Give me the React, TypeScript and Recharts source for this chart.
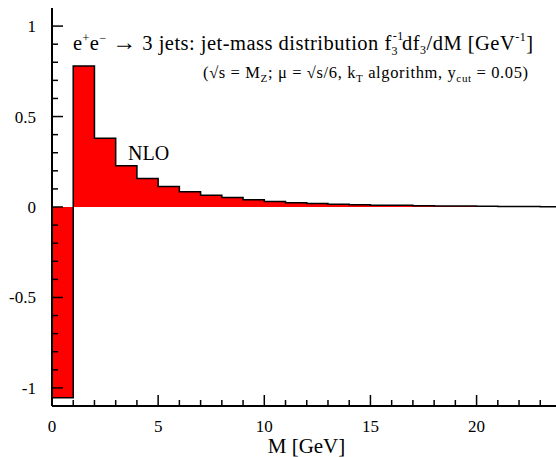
import React from 'react';
import { ComposedChart, Area, Line, XAxis, YAxis } from 'recharts';

// bin edges of the jet-mass histogram [GeV]
const binEdges = [0, 1, 2, 3, 4, 5, 6, 7, 8, 9, 10, 11, 12, 13, 14, 15, 16, 17, 18, 19, 20, 21, 22, 23, 24];
// NLO value in each 1 GeV bin
const nloValues = [
  -1.055, 0.78, 0.38, 0.228, 0.158, 0.113, 0.084, 0.065, 0.052, 0.04, 0.031, 0.024,
  0.019, 0.015, 0.012, 0.01, 0.009, 0.007, 0.006, 0.005, 0.004, 0.003, 0.003, 0.002,
];

const xTicks = [0, 1, 2, 3, 4, 5, 6, 7, 8, 9, 10, 11, 12, 13, 14, 15, 16, 17, 18, 19, 20, 21, 22, 23, 24];
const xLabelled = [0, 5, 10, 15, 20];
const yTicks = [-1, -0.9, -0.8, -0.7, -0.6, -0.5, -0.4, -0.3, -0.2, -0.1, 0, 0.1, 0.2, 0.3, 0.4, 0.5, 0.6, 0.7, 0.8, 0.9, 1];
const yLabelled = [-1, -0.5, 0, 0.5, 1];

// step plot: last edge repeats the last bin value
const data = binEdges.map((m, i) => ({ m, nlo: nloValues[Math.min(i, nloValues.length - 1)] }));

const serif = { fontFamily: 'Liberation Serif, Times New Roman, DejaVu Serif, serif' };
const MAJ = 11;
const MIN = 6;

const isLab = (list: number[], v: number) => list.some((t) => Math.abs(t - v) < 1e-6);

const BottomTick = (props: any) => {
  const { x, y, payload } = props;
  const major = isLab(xLabelled, payload.value);
  return (
    <g>
      <line x1={x} x2={x} y1={y} y2={y - (major ? MAJ : MIN)} stroke="#000" strokeWidth={1.5} />
      {major && (
        <text x={x} y={y + 26} textAnchor="middle" style={serif} fontSize={17} fill="#000">
          {payload.value}
        </text>
      )}
    </g>
  );
};

const TopTick = (props: any) => {
  const { x, y, payload } = props;
  const major = isLab(xLabelled, payload.value);
  return <line x1={x} x2={x} y1={y} y2={y + (major ? MAJ : MIN)} stroke="#000" strokeWidth={1.5} />;
};

const LeftTick = (props: any) => {
  const { x, y, payload } = props;
  const major = isLab(yLabelled, payload.value);
  return (
    <g>
      <line x1={x} x2={x + (major ? MAJ : MIN)} y1={y} y2={y} stroke="#000" strokeWidth={1.5} />
      {major && (
        <text x={x - 16} y={y + 6} textAnchor="end" style={serif} fontSize={17} fill="#000">
          {String(payload.value)}
        </text>
      )}
    </g>
  );
};

const RightTick = (props: any) => {
  const { x, y, payload } = props;
  const major = isLab(yLabelled, payload.value);
  return <line x1={x} x2={x - (major ? MAJ : MIN)} y1={y} y2={y} stroke="#000" strokeWidth={1.5} />;
};

const axisLine = { stroke: '#000', strokeWidth: 2 };

export default function App() {
  return (
    <div style={{ position: 'absolute', left: 0, top: 0, width: 556, height: 457, overflow: 'hidden', background: '#fff' }}>
      <ComposedChart width={580} height={457} data={data} margin={{ top: 8, right: 18.5, bottom: 21, left: 8 }}>
        <XAxis
          dataKey="m"
          type="number"
          domain={[0, 24]}
          ticks={xTicks}
          interval={0}
          allowDataOverflow
          height={30}
          tickSize={0}
          tickMargin={0}
          tickLine={false}
          axisLine={axisLine}
          tick={<BottomTick />}
        />
        <XAxis
          xAxisId="top"
          orientation="top"
          dataKey="m"
          type="number"
          domain={[0, 24]}
          ticks={xTicks}
          interval={0}
          allowDataOverflow
          height={0}
          tickSize={0}
          tickMargin={0}
          tickLine={false}
          axisLine={axisLine}
          tick={<TopTick />}
        />
        <YAxis
          type="number"
          domain={[-1.1, 1.1]}
          ticks={yTicks}
          interval={0}
          allowDataOverflow
          width={44}
          tickSize={0}
          tickMargin={0}
          tickLine={false}
          axisLine={axisLine}
          tick={<LeftTick />}
        />
        <YAxis
          yAxisId="right"
          orientation="right"
          type="number"
          domain={[-1.1, 1.1]}
          ticks={yTicks}
          interval={0}
          allowDataOverflow
          width={0}
          tickSize={0}
          tickMargin={0}
          tickLine={false}
          axisLine={axisLine}
          tick={<RightTick />}
        />
        <Area
          type="stepAfter"
          dataKey="nlo"
          stroke="#000"
          strokeWidth={1.5}
          fill="#ff0000"
          fillOpacity={1}
          baseValue={0}
          dot={false}
          activeDot={false}
          isAnimationActive={false}
        />
        <Line
          xAxisId="top"
          yAxisId="right"
          dataKey="nlo"
          stroke="none"
          dot={false}
          activeDot={false}
          legendType="none"
          isAnimationActive={false}
        />
      </ComposedChart>
      <svg width={556} height={457} style={{ position: 'absolute', left: 0, top: 0, pointerEvents: 'none' }}>
        <text x={73} y={50} style={serif} fontSize={20.5} fill="#000" textLength={460} lengthAdjust="spacing">
          e<tspan dy={-8} fontSize={12}>+</tspan>
          <tspan dy={8}>e</tspan>
          <tspan dy={-8} fontSize={12}>−</tspan>
          <tspan dy={8}> </tspan>
          <tspan fontSize={24}>→</tspan>
          <tspan> 3 jets: jet-mass distribution f</tspan>
          <tspan dx={1} dy={-10} fontSize={12}>-1</tspan>
          <tspan dx={-12} dy={15} fontSize={12}>3</tspan>
          <tspan dx={4} dy={-5}>df</tspan>
          <tspan dy={4} fontSize={12}>3</tspan>
          <tspan dy={-4}>/dM [GeV</tspan>
          <tspan dy={-9} fontSize={12}>-1</tspan>
          <tspan dy={9}>]</tspan>
        </text>
        <text x={203} y={78} style={serif} fontSize={16.5} fill="#000" textLength={325} lengthAdjust="spacing">
          (√s = M<tspan dy={4} fontSize={11}>Z</tspan>
          <tspan dy={-4}>; μ = √s/6, k</tspan>
          <tspan dy={4} fontSize={11}>T</tspan>
          <tspan dy={-4}> algorithm, y</tspan>
          <tspan dy={4} fontSize={11}>cut</tspan>
          <tspan dy={-4}> = 0.05)</tspan>
        </text>
        <text x={128} y={159.5} style={serif} fontSize={20} fill="#000">
          NLO
        </text>
        <text x={306.5} y={453} textAnchor="middle" style={serif} fontSize={21} fill="#000">
          M [GeV]
        </text>
      </svg>
    </div>
  );
}
